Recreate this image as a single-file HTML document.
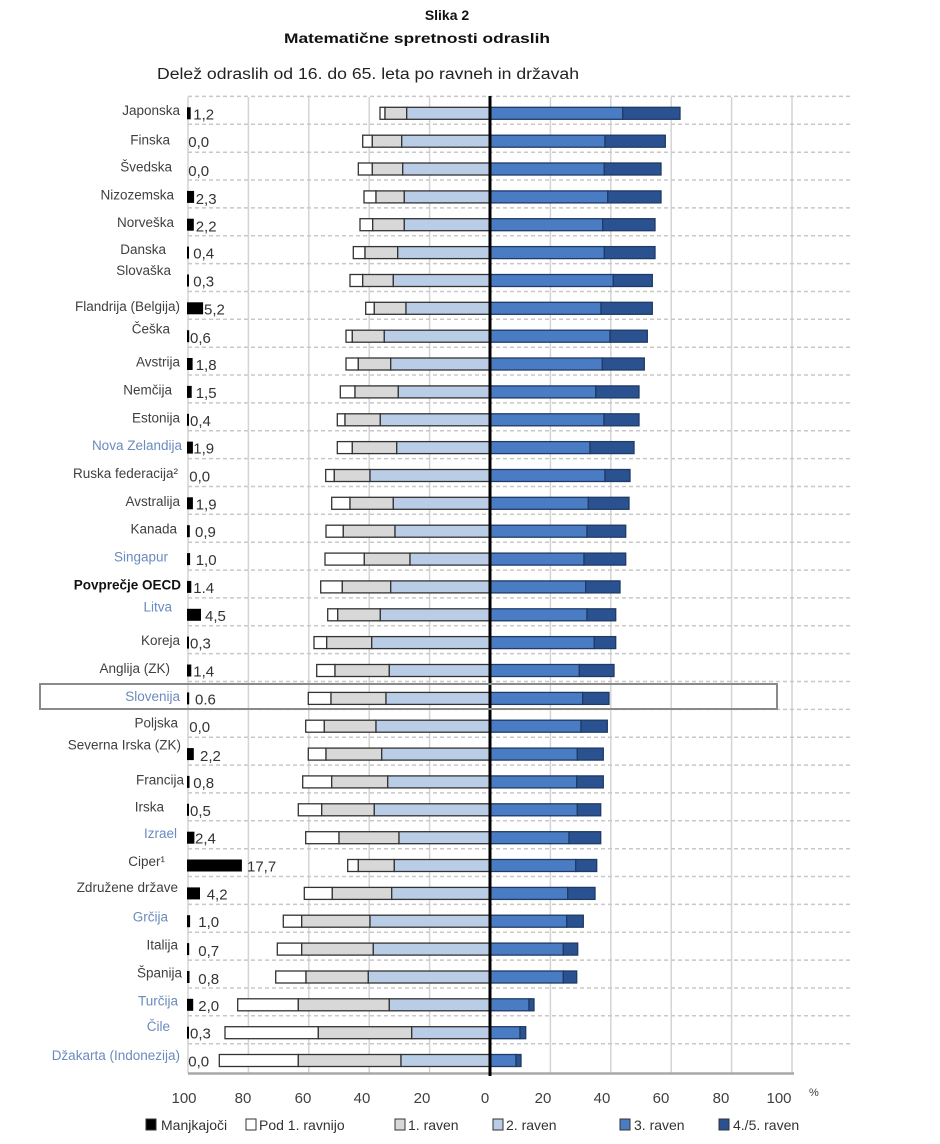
<!DOCTYPE html>
<html><head><meta charset="utf-8"><style>
html,body{margin:0;padding:0;background:#fff;}
svg{display:block;}
text{font-family:"Liberation Sans",sans-serif;}
.lb{font-size:13.5px;fill:#404040;text-anchor:end;}
.bl{fill:#6a8bbd;}
.v{font-size:15px;fill:#333;}
.ax{font-size:15px;fill:#404040;text-anchor:middle;}
.lg{font-size:14px;fill:#333;}
.s{stroke:#333;stroke-width:1.3;}
.w{fill:#fff;}.g{fill:#d8d8d8;}.l{fill:#b9cde6;}.m{fill:#4a7cc4;stroke:#1f3a66;}.d{fill:#2a5290;stroke:#1f3a66;}
</style></head><body>
<svg width="940" height="1144" viewBox="0 0 940 1144" xmlns="http://www.w3.org/2000/svg">
<rect width="940" height="1144" fill="#fff"/>
<text x="447" y="20" font-size="14" font-weight="bold" text-anchor="middle" fill="#111">Slika 2</text>
<text x="284" y="43" font-size="14" font-weight="bold" fill="#111" textLength="266" lengthAdjust="spacingAndGlyphs">Matematične spretnosti odraslih</text>
<text x="157" y="79" font-size="15.5" fill="#222" textLength="422" lengthAdjust="spacingAndGlyphs">Delež odraslih od 16. do 65. leta po ravneh in državah</text>

<!-- vertical gridlines -->
<g stroke="#d4d4d4" stroke-width="1.5">
<line x1="188" y1="97" x2="188" y2="1073"/>
<line x1="248.4" y1="97" x2="248.4" y2="1073"/>
<line x1="308.8" y1="97" x2="308.8" y2="1073"/>
<line x1="369.2" y1="97" x2="369.2" y2="1073"/>
<line x1="429.6" y1="97" x2="429.6" y2="1073"/>
<line x1="550.4" y1="97" x2="550.4" y2="1073"/>
<line x1="610.8" y1="97" x2="610.8" y2="1073"/>
<line x1="671.2" y1="97" x2="671.2" y2="1073"/>
<line x1="731.6" y1="97" x2="731.6" y2="1073"/>
<line x1="792" y1="97" x2="792" y2="1073"/>
</g>
<!-- dashed horizontals -->
<g stroke="#c8c8c8" stroke-width="1.5" stroke-dasharray="4 3">
<line x1="188" y1="96.4" x2="850" y2="96.4"/>
<line x1="188" y1="124.3" x2="850" y2="124.3"/>
<line x1="188" y1="152.2" x2="850" y2="152.2"/>
<line x1="188" y1="180.0" x2="850" y2="180.0"/>
<line x1="188" y1="207.9" x2="850" y2="207.9"/>
<line x1="188" y1="235.7" x2="850" y2="235.7"/>
<line x1="188" y1="263.6" x2="850" y2="263.6"/>
<line x1="188" y1="291.5" x2="850" y2="291.5"/>
<line x1="188" y1="319.3" x2="850" y2="319.3"/>
<line x1="188" y1="347.2" x2="850" y2="347.2"/>
<line x1="188" y1="375.0" x2="850" y2="375.0"/>
<line x1="188" y1="402.9" x2="850" y2="402.9"/>
<line x1="188" y1="430.8" x2="850" y2="430.8"/>
<line x1="188" y1="458.6" x2="850" y2="458.6"/>
<line x1="188" y1="486.5" x2="850" y2="486.5"/>
<line x1="188" y1="514.3" x2="850" y2="514.3"/>
<line x1="188" y1="542.2" x2="850" y2="542.2"/>
<line x1="188" y1="570.1" x2="850" y2="570.1"/>
<line x1="188" y1="597.9" x2="850" y2="597.9"/>
<line x1="188" y1="625.8" x2="850" y2="625.8"/>
<line x1="188" y1="653.6" x2="850" y2="653.6"/>
<line x1="188" y1="681.5" x2="850" y2="681.5"/>
<line x1="188" y1="709.4" x2="850" y2="709.4"/>
<line x1="188" y1="737.2" x2="850" y2="737.2"/>
<line x1="188" y1="765.1" x2="850" y2="765.1"/>
<line x1="188" y1="792.9" x2="850" y2="792.9"/>
<line x1="188" y1="820.8" x2="850" y2="820.8"/>
<line x1="188" y1="848.7" x2="850" y2="848.7"/>
<line x1="188" y1="876.5" x2="850" y2="876.5"/>
<line x1="188" y1="904.4" x2="850" y2="904.4"/>
<line x1="188" y1="932.2" x2="850" y2="932.2"/>
<line x1="188" y1="960.1" x2="850" y2="960.1"/>
<line x1="188" y1="988.0" x2="850" y2="988.0"/>
<line x1="188" y1="1015.8" x2="850" y2="1015.8"/>
<line x1="188" y1="1043.7" x2="850" y2="1043.7"/>
</g>
<line x1="188" y1="1073.5" x2="794" y2="1073.5" stroke="#a8a8a8" stroke-width="2.5"/>

<!-- bars -->
<g class="s">
<rect class="w" x="380" y="107.3" width="5" height="12"/><rect class="g" x="385" y="107.3" width="21.7" height="12"/><rect class="l" x="406.7" y="107.3" width="83.3" height="12"/><rect class="m" x="490" y="107.3" width="132.7" height="12"/><rect class="d" x="622.7" y="107.3" width="57.3" height="12"/>
<rect class="w" x="362.7" y="135.2" width="9.6" height="12"/><rect class="g" x="372.3" y="135.2" width="29.4" height="12"/><rect class="l" x="401.7" y="135.2" width="88.3" height="12"/><rect class="m" x="490" y="135.2" width="115" height="12"/><rect class="d" x="605" y="135.2" width="60.3" height="12"/>
<rect class="w" x="358.3" y="163" width="14" height="12"/><rect class="g" x="372.3" y="163" width="30.4" height="12"/><rect class="l" x="402.7" y="163" width="87.3" height="12"/><rect class="m" x="490" y="163" width="114.3" height="12"/><rect class="d" x="604.3" y="163" width="56.7" height="12"/>
<rect class="w" x="364" y="190.9" width="12" height="12"/><rect class="g" x="376" y="190.9" width="28.3" height="12"/><rect class="l" x="404.3" y="190.9" width="85.7" height="12"/><rect class="m" x="490" y="190.9" width="117.7" height="12"/><rect class="d" x="607.7" y="190.9" width="53.3" height="12"/>
<rect class="w" x="360" y="218.7" width="12.7" height="12"/><rect class="g" x="372.7" y="218.7" width="31.6" height="12"/><rect class="l" x="404.3" y="218.7" width="85.7" height="12"/><rect class="m" x="490" y="218.7" width="112.7" height="12"/><rect class="d" x="602.7" y="218.7" width="52.3" height="12"/>
<rect class="w" x="353.3" y="246.6" width="11.7" height="12"/><rect class="g" x="365" y="246.6" width="32.7" height="12"/><rect class="l" x="397.7" y="246.6" width="92.3" height="12"/><rect class="m" x="490" y="246.6" width="114.3" height="12"/><rect class="d" x="604.3" y="246.6" width="50.7" height="12"/>
<rect class="w" x="350" y="274.5" width="12.7" height="12"/><rect class="g" x="362.7" y="274.5" width="30.6" height="12"/><rect class="l" x="393.3" y="274.5" width="96.7" height="12"/><rect class="m" x="490" y="274.5" width="123.3" height="12"/><rect class="d" x="613.3" y="274.5" width="39" height="12"/>
<rect class="w" x="365.7" y="302.3" width="8.6" height="12"/><rect class="g" x="374.3" y="302.3" width="31.7" height="12"/><rect class="l" x="406" y="302.3" width="84" height="12"/><rect class="m" x="490" y="302.3" width="111" height="12"/><rect class="d" x="601" y="302.3" width="51.3" height="12"/>
<rect class="w" x="346" y="330.2" width="6.3" height="12"/><rect class="g" x="352.3" y="330.2" width="32" height="12"/><rect class="l" x="384.3" y="330.2" width="105.7" height="12"/><rect class="m" x="490" y="330.2" width="120" height="12"/><rect class="d" x="610" y="330.2" width="37.3" height="12"/>
<rect class="w" x="346" y="358" width="12.3" height="12"/><rect class="g" x="358.3" y="358" width="32.4" height="12"/><rect class="l" x="390.7" y="358" width="99.3" height="12"/><rect class="m" x="490" y="358" width="112.3" height="12"/><rect class="d" x="602.3" y="358" width="42" height="12"/>
<rect class="w" x="340.3" y="385.9" width="14.7" height="12"/><rect class="g" x="355" y="385.9" width="43.3" height="12"/><rect class="l" x="398.3" y="385.9" width="91.7" height="12"/><rect class="m" x="490" y="385.9" width="105.7" height="12"/><rect class="d" x="595.7" y="385.9" width="43.3" height="12"/>
<rect class="w" x="337.3" y="413.8" width="7.7" height="12"/><rect class="g" x="345" y="413.8" width="35.3" height="12"/><rect class="l" x="380.3" y="413.8" width="109.7" height="12"/><rect class="m" x="490" y="413.8" width="114" height="12"/><rect class="d" x="604" y="413.8" width="35" height="12"/>
<rect class="w" x="337.3" y="441.6" width="15" height="12"/><rect class="g" x="352.3" y="441.6" width="44.4" height="12"/><rect class="l" x="396.7" y="441.6" width="93.3" height="12"/><rect class="m" x="490" y="441.6" width="100" height="12"/><rect class="d" x="590" y="441.6" width="44" height="12"/>
<rect class="w" x="325.7" y="469.5" width="8.6" height="12"/><rect class="g" x="334.3" y="469.5" width="35.7" height="12"/><rect class="l" x="370" y="469.5" width="120" height="12"/><rect class="m" x="490" y="469.5" width="115" height="12"/><rect class="d" x="605" y="469.5" width="25" height="12"/>
<rect class="w" x="331.7" y="497.3" width="18.3" height="12"/><rect class="g" x="350" y="497.3" width="43.3" height="12"/><rect class="l" x="393.3" y="497.3" width="96.7" height="12"/><rect class="m" x="490" y="497.3" width="98.3" height="12"/><rect class="d" x="588.3" y="497.3" width="40.7" height="12"/>
<rect class="w" x="326" y="525.2" width="17.3" height="12"/><rect class="g" x="343.3" y="525.2" width="51.7" height="12"/><rect class="l" x="395" y="525.2" width="95" height="12"/><rect class="m" x="490" y="525.2" width="97" height="12"/><rect class="d" x="587" y="525.2" width="38.7" height="12"/>
<rect class="w" x="325" y="553.1" width="39.3" height="12"/><rect class="g" x="364.3" y="553.1" width="45.7" height="12"/><rect class="l" x="410" y="553.1" width="80" height="12"/><rect class="m" x="490" y="553.1" width="94" height="12"/><rect class="d" x="584" y="553.1" width="41.7" height="12"/>
<rect class="w" x="320.7" y="580.9" width="21.6" height="12"/><rect class="g" x="342.3" y="580.9" width="48.4" height="12"/><rect class="l" x="390.7" y="580.9" width="99.3" height="12"/><rect class="m" x="490" y="580.9" width="95.7" height="12"/><rect class="d" x="585.7" y="580.9" width="34.3" height="12"/>
<rect class="w" x="327.7" y="608.8" width="10" height="12"/><rect class="g" x="337.7" y="608.8" width="42.6" height="12"/><rect class="l" x="380.3" y="608.8" width="109.7" height="12"/><rect class="m" x="490" y="608.8" width="97" height="12"/><rect class="d" x="587" y="608.8" width="28.7" height="12"/>
<rect class="w" x="314" y="636.6" width="12.7" height="12"/><rect class="g" x="326.7" y="636.6" width="45" height="12"/><rect class="l" x="371.7" y="636.6" width="118.3" height="12"/><rect class="m" x="490" y="636.6" width="104.3" height="12"/><rect class="d" x="594.3" y="636.6" width="21.4" height="12"/>
<rect class="w" x="316.7" y="664.5" width="18.3" height="12"/><rect class="g" x="335" y="664.5" width="54.3" height="12"/><rect class="l" x="389.3" y="664.5" width="100.7" height="12"/><rect class="m" x="490" y="664.5" width="89.3" height="12"/><rect class="d" x="579.3" y="664.5" width="34.7" height="12"/>
<rect class="w" x="308.3" y="692.4" width="22.7" height="12"/><rect class="g" x="331" y="692.4" width="55" height="12"/><rect class="l" x="386" y="692.4" width="104" height="12"/><rect class="m" x="490" y="692.4" width="92.7" height="12"/><rect class="d" x="582.7" y="692.4" width="26.3" height="12"/>
<rect class="w" x="305.7" y="720.2" width="18.6" height="12"/><rect class="g" x="324.3" y="720.2" width="51.7" height="12"/><rect class="l" x="376" y="720.2" width="114" height="12"/><rect class="m" x="490" y="720.2" width="91" height="12"/><rect class="d" x="581" y="720.2" width="26.3" height="12"/>
<rect class="w" x="308.3" y="748.1" width="17.7" height="12"/><rect class="g" x="326" y="748.1" width="55.7" height="12"/><rect class="l" x="381.7" y="748.1" width="108.3" height="12"/><rect class="m" x="490" y="748.1" width="87.3" height="12"/><rect class="d" x="577.3" y="748.1" width="26" height="12"/>
<rect class="w" x="302.7" y="775.9" width="29" height="12"/><rect class="g" x="331.7" y="775.9" width="56" height="12"/><rect class="l" x="387.7" y="775.9" width="102.3" height="12"/><rect class="m" x="490" y="775.9" width="86.7" height="12"/><rect class="d" x="576.7" y="775.9" width="26.6" height="12"/>
<rect class="w" x="298.3" y="803.8" width="23.4" height="12"/><rect class="g" x="321.7" y="803.8" width="52.6" height="12"/><rect class="l" x="374.3" y="803.8" width="115.7" height="12"/><rect class="m" x="490" y="803.8" width="87.3" height="12"/><rect class="d" x="577.3" y="803.8" width="23.4" height="12"/>
<rect class="w" x="305.7" y="831.7" width="33.3" height="12"/><rect class="g" x="339" y="831.7" width="60" height="12"/><rect class="l" x="399" y="831.7" width="91" height="12"/><rect class="m" x="490" y="831.7" width="79" height="12"/><rect class="d" x="569" y="831.7" width="31.7" height="12"/>
<rect class="w" x="347.7" y="859.5" width="10.6" height="12"/><rect class="g" x="358.3" y="859.5" width="36" height="12"/><rect class="l" x="394.3" y="859.5" width="95.7" height="12"/><rect class="m" x="490" y="859.5" width="85.7" height="12"/><rect class="d" x="575.7" y="859.5" width="21" height="12"/>
<rect class="w" x="304.3" y="887.4" width="28" height="12"/><rect class="g" x="332.3" y="887.4" width="59.4" height="12"/><rect class="l" x="391.7" y="887.4" width="98.3" height="12"/><rect class="m" x="490" y="887.4" width="77.7" height="12"/><rect class="d" x="567.7" y="887.4" width="27.3" height="12"/>
<rect class="w" x="283.3" y="915.2" width="18.4" height="12"/><rect class="g" x="301.7" y="915.2" width="68.3" height="12"/><rect class="l" x="370" y="915.2" width="120" height="12"/><rect class="m" x="490" y="915.2" width="76.7" height="12"/><rect class="d" x="566.7" y="915.2" width="16.6" height="12"/>
<rect class="w" x="277.3" y="943.1" width="24.4" height="12"/><rect class="g" x="301.7" y="943.1" width="71.6" height="12"/><rect class="l" x="373.3" y="943.1" width="116.7" height="12"/><rect class="m" x="490" y="943.1" width="73.3" height="12"/><rect class="d" x="563.3" y="943.1" width="14.4" height="12"/>
<rect class="w" x="275.7" y="971" width="30.3" height="12"/><rect class="g" x="306" y="971" width="62.3" height="12"/><rect class="l" x="368.3" y="971" width="121.7" height="12"/><rect class="m" x="490" y="971" width="73.3" height="12"/><rect class="d" x="563.3" y="971" width="13.4" height="12"/>
<rect class="w" x="237.7" y="998.8" width="60.6" height="12"/><rect class="g" x="298.3" y="998.8" width="91" height="12"/><rect class="l" x="389.3" y="998.8" width="100.7" height="12"/><rect class="m" x="490" y="998.8" width="39" height="12"/><rect class="d" x="529" y="998.8" width="5" height="12"/>
<rect class="w" x="225" y="1026.7" width="93.3" height="12"/><rect class="g" x="318.3" y="1026.7" width="93.4" height="12"/><rect class="l" x="411.7" y="1026.7" width="78.3" height="12"/><rect class="m" x="490" y="1026.7" width="30" height="12"/><rect class="d" x="520" y="1026.7" width="5.7" height="12"/>
<rect class="w" x="219.3" y="1054.5" width="79" height="12"/><rect class="g" x="298.3" y="1054.5" width="102.7" height="12"/><rect class="l" x="401" y="1054.5" width="89" height="12"/><rect class="m" x="490" y="1054.5" width="26" height="12"/><rect class="d" x="516" y="1054.5" width="5" height="12"/>
</g>

<!-- center line -->
<line x1="490" y1="96" x2="490" y2="1076" stroke="#000" stroke-width="3"/>

<!-- missing bars -->
<g fill="#000">
<rect x="187" y="107.3" width="3.7" height="12"/>
<rect x="187" y="190.9" width="7.1" height="12"/>
<rect x="187" y="218.7" width="6.8" height="12"/>
<rect x="187" y="246.6" width="2" height="12"/>
<rect x="187" y="274.5" width="2" height="12"/>
<rect x="187" y="302.3" width="16.1" height="12"/>
<rect x="187" y="330.2" width="2.2" height="12"/>
<rect x="187" y="358" width="5.6" height="12"/>
<rect x="187" y="385.9" width="4.7" height="12"/>
<rect x="187" y="413.8" width="2" height="12"/>
<rect x="187" y="441.6" width="5.9" height="12"/>
<rect x="187" y="497.3" width="5.9" height="12"/>
<rect x="187" y="525.2" width="2.8" height="12"/>
<rect x="187" y="553.1" width="3.1" height="12"/>
<rect x="187" y="580.9" width="4.3" height="12"/>
<rect x="187" y="608.8" width="14" height="12"/>
<rect x="187" y="636.6" width="2" height="12"/>
<rect x="187" y="664.5" width="4.3" height="12"/>
<rect x="187" y="692.4" width="2.2" height="12"/>
<rect x="187" y="748.1" width="6.8" height="12"/>
<rect x="187" y="775.9" width="2.5" height="12"/>
<rect x="187" y="803.8" width="2" height="12"/>
<rect x="187" y="831.7" width="7.4" height="12"/>
<rect x="187" y="859.5" width="54.9" height="12"/>
<rect x="187" y="887.4" width="13" height="12"/>
<rect x="187" y="915.2" width="3.1" height="12"/>
<rect x="187" y="943.1" width="2.2" height="12"/>
<rect x="187" y="971" width="2.5" height="12"/>
<rect x="187" y="998.8" width="6.2" height="12"/>
<rect x="187" y="1026.7" width="2" height="12"/>
</g>

<!-- values -->
<g class="v">
<text x="193.3" y="119.3">1,2</text>
<text x="188.3" y="147.2">0,0</text>
<text x="188.3" y="176">0,0</text>
<text x="195.7" y="203.9">2,3</text>
<text x="195.7" y="231.7">2,2</text>
<text x="193.3" y="258.6">0,4</text>
<text x="193.3" y="286.5">0,3</text>
<text x="204" y="314.3">5,2</text>
<text x="190" y="343.2">0,6</text>
<text x="195.7" y="370">1,8</text>
<text x="195.7" y="397.9">1,5</text>
<text x="190" y="425.8">0,4</text>
<text x="193.3" y="453.6">1,9</text>
<text x="189.3" y="481.5">0,0</text>
<text x="195.7" y="509.3">1,9</text>
<text x="195" y="537.2">0,9</text>
<text x="195.7" y="565.1">1,0</text>
<text x="193.3" y="592.9">1.4</text>
<text x="205" y="620.8">4,5</text>
<text x="190" y="648.6">0,3</text>
<text x="193.3" y="676.5">1,4</text>
<text x="195" y="704.4">0.6</text>
<text x="189.3" y="732.2">0,0</text>
<text x="200" y="761.1">2,2</text>
<text x="193.3" y="787.9">0,8</text>
<text x="190" y="815.8">0,5</text>
<text x="195" y="843.7">2,4</text>
<text x="247" y="871.5">17,7</text>
<text x="206.7" y="899.4">4,2</text>
<text x="198.3" y="927.2">1,0</text>
<text x="198.3" y="956.1">0,7</text>
<text x="198.3" y="984">0,8</text>
<text x="198.3" y="1010.8">2,0</text>
<text x="190" y="1038.7">0,3</text>
<text x="188.3" y="1066.5">0,0</text>
</g>

<!-- country labels -->
<g class="lb">
<text x="180" y="114.8">Japonska</text>
<text x="170" y="144.7">Finska</text>
<text x="172" y="171.5">Švedska</text>
<text x="174" y="199.4">Nizozemska</text>
<text x="174" y="227.2">Norveška</text>
<text x="166" y="254.1">Danska</text>
<text x="171" y="275">Slovaška</text>
<text x="180" y="310.8">Flandrija (Belgija)</text>
<text x="170" y="333.7">Češka</text>
<text x="180" y="366.5">Avstrija</text>
<text x="172" y="394.4">Nemčija</text>
<text x="180" y="422.3">Estonija</text>
<text class="bl" x="182" y="450.1">Nova Zelandija</text>
<text x="178" y="478">Ruska federacija²</text>
<text x="180" y="505.8">Avstralija</text>
<text x="177" y="533.7">Kanada</text>
<text class="bl" x="168" y="561.6">Singapur</text>
<text x="181" y="589.4" font-weight="bold" fill="#111">Povprečje OECD</text>
<text class="bl" x="172" y="611.3">Litva</text>
<text x="180" y="645.1">Koreja</text>
<text x="170" y="673">Anglija (ZK)</text>
<text class="bl" x="180" y="700.9">Slovenija</text>
<text x="178" y="727.7">Poljska</text>
<text x="181" y="749.6">Severna Irska (ZK)</text>
<text x="184" y="784.4">Francija</text>
<text x="164" y="811.3">Irska</text>
<text class="bl" x="177" y="838.2">Izrael</text>
<text x="165" y="866">Ciper¹</text>
<text x="178" y="891.9">Združene države</text>
<text class="bl" x="168" y="921.7">Grčija</text>
<text x="178" y="949.6">Italija</text>
<text x="182" y="977.5">Španija</text>
<text class="bl" x="178" y="1005.3">Turčija</text>
<text class="bl" x="170" y="1031.2">Čile</text>
<text class="bl" x="180" y="1060">Džakarta (Indonezija)</text>
</g>

<!-- Slovenija box -->
<rect x="40" y="684" width="737" height="25" fill="none" stroke="#8a8a8a" stroke-width="2"/>

<!-- axis labels -->
<g class="ax">
<text x="184" y="1103">100</text>
<text x="243" y="1103">80</text>
<text x="303" y="1103">60</text>
<text x="362" y="1103">40</text>
<text x="422" y="1103">20</text>
<text x="485" y="1103">0</text>
<text x="543" y="1103">20</text>
<text x="602" y="1103">40</text>
<text x="661" y="1103">60</text>
<text x="721" y="1103">80</text>
<text x="779" y="1103">100</text>
</g>
<text x="809" y="1096" font-size="11" fill="#404040">%</text>

<!-- legend -->
<g stroke="#333" stroke-width="1">
<rect x="146" y="1119" width="10" height="11" fill="#000"/>
<rect x="246" y="1119" width="10" height="11" fill="#fff"/>
<rect x="395" y="1119" width="10" height="11" fill="#d8d8d8"/>
<rect x="493" y="1119" width="10" height="11" fill="#b9cde6"/>
<rect x="620" y="1119" width="10" height="11" fill="#4a7cc4"/>
<rect x="719" y="1119" width="10" height="11" fill="#2a5290"/>
</g>
<g class="lg">
<text x="161" y="1130">Manjkajoči</text>
<text x="259" y="1130">Pod 1. ravnijo</text>
<text x="408" y="1130">1. raven</text>
<text x="506" y="1130">2. raven</text>
<text x="634" y="1130">3. raven</text>
<text x="733" y="1130">4./5. raven</text>
</g>
</svg>
</body></html>
